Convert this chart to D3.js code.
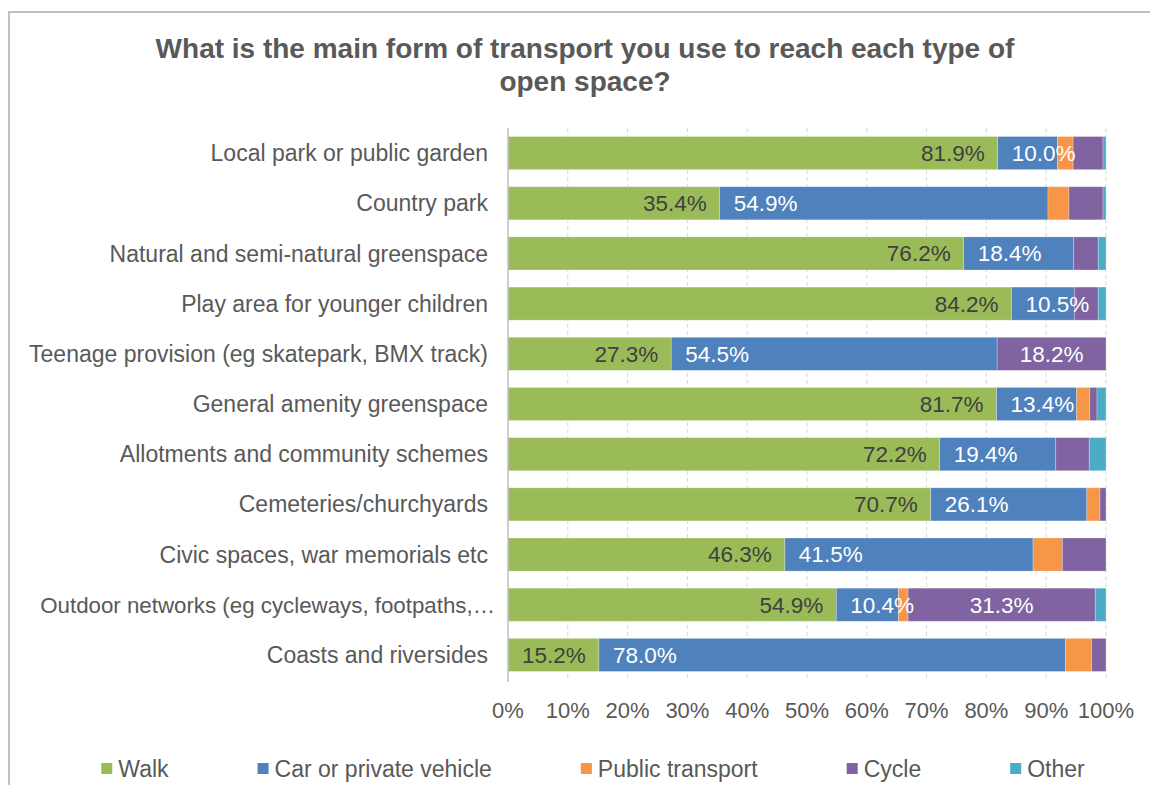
<!DOCTYPE html>
<html>
<head>
<meta charset="utf-8">
<script src="https://cdn.jsdelivr.net/npm/d3@7/dist/d3.min.js"></script>
<style>
  html, body { margin: 0; padding: 0; background: #fff; }
  svg { display: block; font-family: "Liberation Sans", Arial, sans-serif; }
</style>
</head>
<body>
<svg id="chart" width="1150" height="785"></svg>
<script>
// Open space types (top to bottom)
const categories = [
  "Local park or public garden",
  "Country park",
  "Natural and semi-natural greenspace",
  "Play area for younger children",
  "Teenage provision (eg skatepark, BMX track)",
  "General amenity greenspace",
  "Allotments and community schemes",
  "Cemeteries/churchyards",
  "Civic spaces, war memorials etc",
  "Outdoor networks (eg cycleways, footpaths,\u2026",
  "Coasts and riversides"
];

// Share of respondents (%) by main form of transport
const walk            = [81.9, 35.4, 76.2, 84.2, 27.3, 81.7, 72.2, 70.7, 46.3, 54.9, 15.2];
const carOrVehicle    = [10.0, 54.9, 18.4, 10.5, 54.5, 13.4, 19.4, 26.1, 41.5, 10.4, 78.0];
const publicTransport = [ 2.6,  3.5,  0.0,  0.0,  0.0,  2.2,  0.0,  2.2,  4.9,  1.6,  4.4];
const cycle           = [ 5.0,  5.7,  4.1,  4.0, 18.2,  1.2,  5.6,  1.0,  7.3, 31.3,  2.4];
const other           = [ 0.5,  0.5,  1.3,  1.3,  0.0,  1.5,  2.8,  0.0,  0.0,  1.8,  0.0];

const seriesNames = ["Walk", "Car or private vehicle", "Public transport", "Cycle", "Other"];
const xTicks = [0, 10, 20, 30, 40, 50, 60, 70, 80, 90, 100];

const seriesValues = [walk, carOrVehicle, publicTransport, cycle, other];
const colors = ["#9BBB59", "#4F81BD", "#F79646", "#8064A2", "#4BACC6"];
const textGrey = "#595959";

const svg = d3.select("#chart");

// Frame of the chart area
svg.append("rect")
  .attr("x", 9).attr("y", 12)
  .attr("width", 1200).attr("height", 800)
  .attr("fill", "#fff")
  .attr("stroke", "#c0c0c0").attr("stroke-width", 2);

// Title
const title = svg.append("text")
  .attr("text-anchor", "middle")
  .attr("fill", textGrey)
  .attr("font-size", 28).attr("font-weight", "bold");
title.append("tspan").attr("x", 585).attr("y", 58)
  .text("What is the main form of transport you use to reach each type of");
title.append("tspan").attr("x", 585).attr("y", 91)
  .text("open space?");

// Scales
const x = d3.scaleLinear().domain([0, 100]).range([508, 1106]);
const y = d3.scaleBand().domain(categories).range([128, 680]).paddingInner(0.34).paddingOuter(0.17);

// Vertical gridlines
svg.append("g")
  .selectAll("line")
  .data(xTicks.slice(1))
  .join("line")
  .attr("x1", d => x(d)).attr("x2", d => x(d))
  .attr("y1", 128).attr("y2", 681)
  .attr("stroke", "#d9d9d9")
  .attr("stroke-width", 1)
  .attr("stroke-dasharray", "4,3");

// Stack the series
const rows = categories.map((c, i) => {
  const r = { category: c };
  seriesNames.forEach((s, k) => { r[s] = seriesValues[k][i]; });
  return r;
});
const stacked = d3.stack().keys(seriesNames)(rows);

const layers = svg.append("g")
  .selectAll("g")
  .data(stacked)
  .join("g")
  .attr("fill", (d, k) => colors[k]);

layers.selectAll("rect")
  .data(d => d)
  .join("rect")
  .attr("x", d => x(d[0]))
  .attr("y", d => y(d.data.category))
  .attr("width", d => Math.max(0, x(d[1]) - x(d[0])))
  .attr("height", y.bandwidth())
  .attr("stroke", "#ffffff")
  .attr("stroke-opacity", 0.35)
  .attr("stroke-width", 0.75);

// Category axis line
svg.append("line")
  .attr("x1", x(0)).attr("x2", x(0))
  .attr("y1", 128).attr("y2", 682)
  .attr("stroke", "#bfbfbf").attr("stroke-width", 1.5);

// Category labels (a truncated label runs slightly closer to the axis)
const truncated = d => d.endsWith("\u2026");
svg.append("g")
  .selectAll("text")
  .data(categories)
  .join("text")
  .attr("x", d => truncated(d) ? 495 : 488)
  .attr("y", d => y(d) + y.bandwidth() / 2)
  .attr("dy", "0.35em")
  .attr("text-anchor", "end")
  .attr("fill", textGrey)
  .attr("font-size", d => truncated(d) ? 22.3 : 23)
  .text(d => d);

// Value axis tick labels
svg.append("g")
  .selectAll("text")
  .data(xTicks)
  .join("text")
  .attr("x", d => x(d))
  .attr("y", 718)
  .attr("text-anchor", "middle")
  .attr("fill", textGrey)
  .attr("font-size", 22)
  .text(d => d + "%");

// Data labels for segments of 10% or more
const labelStyle = [
  { anchor: "end",    color: "#404040", pos: d => x(d[1]) - 13 },
  { anchor: "start",  color: "#ffffff", pos: d => x(d[0]) + 14 },
  { anchor: "middle", color: "#ffffff", pos: d => (x(d[0]) + x(d[1])) / 2 },
  { anchor: "middle", color: "#ffffff", pos: d => (x(d[0]) + x(d[1])) / 2 },
  { anchor: "middle", color: "#ffffff", pos: d => (x(d[0]) + x(d[1])) / 2 }
];

stacked.forEach((layer, k) => {
  const st = labelStyle[k];
  svg.append("g")
    .selectAll("text")
    .data(layer.filter(d => d[1] - d[0] >= 10))
    .join("text")
    .attr("x", st.pos)
    .attr("y", d => y(d.data.category) + y.bandwidth() / 2)
    .attr("dy", "0.35em")
    .attr("text-anchor", st.anchor)
    .attr("fill", st.color)
    .attr("font-size", 22.5)
    .text(d => (d[1] - d[0]).toFixed(1) + "%");
});

// Legend, entries laid out with an even gap and centred
const legend = svg.append("g");
const items = legend.selectAll("g")
  .data(seriesNames)
  .join("g");
items.append("rect")
  .attr("width", 11).attr("height", 11)
  .attr("y", 763)
  .attr("fill", (d, k) => colors[k]);
items.append("text")
  .attr("x", 17)
  .attr("y", 768.5)
  .attr("dy", "0.35em")
  .attr("fill", textGrey)
  .attr("font-size", 23)
  .text(d => d);

const gap = 89;
const widths = [];
items.each(function () {
  widths.push(17 + d3.select(this).select("text").node().getComputedTextLength());
});
const total = d3.sum(widths) + gap * (widths.length - 1);
let cursor = 593 - total / 2;
items.attr("transform", (d, k) => {
  const t = `translate(${cursor},0)`;
  cursor += widths[k] + gap;
  return t;
});
</script>
</body>
</html>
